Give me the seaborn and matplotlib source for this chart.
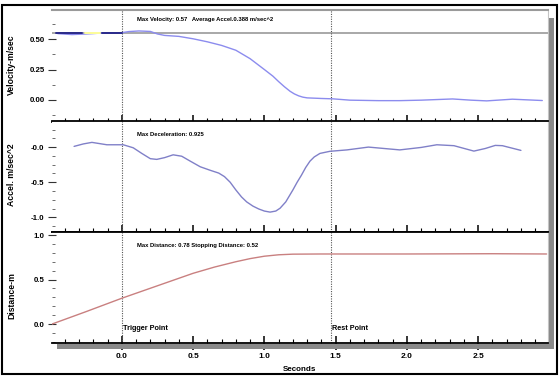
import matplotlib
matplotlib.use("Agg")
import matplotlib.pyplot as plt
import seaborn as sns
from matplotlib.patches import Rectangle
from matplotlib.ticker import MultipleLocator, FixedLocator, FixedFormatter

# ---------------- data ----------------
vel_t = [-0.45, -0.35, -0.25, -0.15, 0.0, 0.05, 0.12, 0.20, 0.25, 0.30, 0.40, 0.50,
         0.60, 0.70, 0.80, 0.90, 1.00, 1.06, 1.10, 1.14, 1.18, 1.21, 1.24, 1.27, 1.30,
         1.40, 1.48, 1.60, 1.80, 1.95, 2.10, 2.32, 2.45, 2.56, 2.74, 2.95]
vel_v = [0.548, 0.540, 0.545, 0.552, 0.556, 0.565, 0.570, 0.566, 0.545, 0.533, 0.525, 0.505,
         0.480, 0.450, 0.410, 0.340, 0.250, 0.195, 0.150, 0.108, 0.070, 0.048, 0.032, 0.021, 0.015,
         0.010, 0.007, -0.004, -0.008, -0.008, -0.004, 0.006, -0.004, -0.010, 0.004, -0.007]

vel_ref = 0.555
cursor_t0 = [-0.46, -0.26, -0.14]
cursor_t1 = [-0.28, -0.15, 0.0]
cursor_colors = ["#2a2a8a", "#ffff99", "#2a2a8a"]

acc_t = [-0.335, -0.27, -0.21, -0.105, 0.01, 0.08, 0.14, 0.20, 0.245, 0.30, 0.36, 0.42,
         0.48, 0.55, 0.62, 0.68, 0.72, 0.76, 0.80, 0.84, 0.876, 0.92, 0.96, 1.00, 1.04,
         1.08, 1.11, 1.15, 1.20, 1.23, 1.26, 1.29, 1.32, 1.35, 1.39, 1.46, 1.58, 1.73,
         1.95, 2.10, 2.21, 2.33, 2.47, 2.55, 2.62, 2.67, 2.80]
acc_a = [0.010, 0.045, 0.067, 0.033, 0.033, -0.010, -0.090, -0.165, -0.175, -0.150, -0.110, -0.130,
         -0.200, -0.280, -0.330, -0.370, -0.420, -0.500, -0.610, -0.710, -0.780, -0.840, -0.880, -0.910, -0.925,
         -0.910, -0.870, -0.780, -0.610, -0.500, -0.400, -0.290, -0.200, -0.140, -0.090, -0.060, -0.040, 0.000,
         -0.040, -0.005, 0.033, 0.020, -0.057, -0.020, 0.024, 0.020, -0.047]

dist_t = [-0.49, -0.25, 0.0, 0.25, 0.50, 0.65, 0.80, 0.90, 1.00, 1.10, 1.20, 1.40,
          2.00, 2.60, 2.98]
dist_d = [0.000, 0.140, 0.290, 0.430, 0.570, 0.640, 0.700, 0.735, 0.762, 0.778, 0.785, 0.787,
          0.787, 0.790, 0.787]

trigger_t = 0.0
rest_t = 1.47

vel_ticks = [0.0, 0.25, 0.5]
vel_labels = ["0.00", "0.25", "0.50"]
acc_ticks = [0.0, -0.5, -1.0]
acc_labels = ["-0.0", "-0.5", "-1.0"]
dist_ticks = [0.0, 0.5, 1.0]
dist_labels = ["0.0", "0.5", "1.0"]
x_ticks = [0.0, 0.5, 1.0, 1.5, 2.0, 2.5]
x_labels = ["0.0", "0.5", "1.0", "1.5", "2.0", "2.5"]

# ---------------- style ----------------
sns.set_theme(style="white")
plt.rcParams['font.family'] = ['Liberation Sans', 'DejaVu Sans']
plt.rcParams['font.weight'] = 'bold'

W, H = 560, 379
fig = plt.figure(figsize=(W / 100, H / 100), dpi=100)
fig.patch.set_facecolor("white")


def px_axes(left, top, right, bottom):
    return fig.add_axes([left / W, 1 - bottom / H, (right - left) / W, (bottom - top) / H])


ax1 = px_axes(52, 9.5, 548, 121.5)
ax2 = px_axes(52, 121.5, 548, 232)
ax3 = px_axes(52, 232, 548, 343)

# ---------------- lines ----------------
ax1.axhline(vel_ref, color="#9a9a9a", lw=1.2, zorder=1)
sns.lineplot(x=vel_t, y=vel_v, ax=ax1, color="#8c8cee", lw=1.0, sort=False,
             estimator=None, zorder=3)
for t0, t1, c in zip(cursor_t0, cursor_t1, cursor_colors):
    sns.lineplot(x=[t0, t1], y=[vel_ref, vel_ref], ax=ax1, color=c, lw=1.4,
                 sort=False, estimator=None, zorder=4)

sns.lineplot(x=acc_t, y=acc_a, ax=ax2, color="#8080c8", lw=1.0, sort=False,
             estimator=None, zorder=3)
sns.lineplot(x=dist_t, y=dist_d, ax=ax3, color="#c98080", lw=1.0, sort=False,
             estimator=None, zorder=3)

# ---------------- axes formatting ----------------
ylims = [(-0.181, 0.748), (-1.208, 0.364), (-0.213, 1.034)]
yt = [(vel_ticks, vel_labels, 0.125), (acc_ticks, acc_labels, 0.125),
      (dist_ticks, dist_labels, 0.1)]
for ax, yl, (tk, lb, mn) in zip([ax1, ax2, ax3], ylims, yt):
    ax.set_xlim(-0.49, 2.99)
    ax.set_ylim(*yl)
    ax.set_xlabel("")
    ax.set_ylabel("")
    ax.xaxis.set_major_locator(FixedLocator(x_ticks))
    ax.xaxis.set_major_formatter(FixedFormatter(x_labels))
    ax.xaxis.set_minor_locator(MultipleLocator(0.1))
    ax.yaxis.set_major_locator(FixedLocator(tk))
    ax.yaxis.set_major_formatter(FixedFormatter(lb))
    ax.yaxis.set_minor_locator(MultipleLocator(mn))
    ax.tick_params(axis="x", which="major", bottom=True, top=False, direction="inout",
                   length=9.5, width=1.1, color="black", labelsize=6, pad=2.5,
                   labelcolor="black")
    ax.tick_params(axis="x", which="minor", bottom=True, top=False, direction="in",
                   length=3, width=0.8, color="black")
    ax.tick_params(axis="y", which="major", left=True, right=False, direction="inout",
                   length=5.8, width=0.8, color="#333333", labelsize=5.7, pad=2.5,
                   labelcolor="black")
    ax.tick_params(axis="y", which="minor", left=True, right=False, direction="in",
                   length=2, width=0.6, color="#555555")
    ax.spines["left"].set_visible(False)
    ax.spines["right"].set_color("#c4c4c4")
    ax.spines["right"].set_linewidth(0.8)
    ax.spines["bottom"].set_color("black")
    ax.spines["bottom"].set_linewidth(1.3)
    ax.spines["top"].set_color("black")
    ax.spines["top"].set_linewidth(1.3)
    ax.axvline(trigger_t, color="#555555", lw=0.8, ls=(0, (1, 1.2)), zorder=2)
    ax.axvline(rest_t, color="#555555", lw=0.8, ls=(0, (1, 1.2)), zorder=2)
    for lab in ax.get_xticklabels() + ax.get_yticklabels():
        lab.set_fontweight("bold")

ax1.spines["top"].set_color("#9a9a9a")
ax1.spines["top"].set_linewidth(1.5)
ax1.tick_params(axis="x", labelbottom=False)
ax2.tick_params(axis="x", labelbottom=False)

ylab_kw = dict(fontsize=6.2, fontweight="bold", color="black")
ax1.set_ylabel("Velocity-m/sec", **ylab_kw)
ax2.set_ylabel("Accel. m/sec^2", **ylab_kw)
ax3.set_ylabel("Distance-m", **ylab_kw)
ax1.yaxis.set_label_coords(-0.072, 0.51)
ax2.yaxis.set_label_coords(-0.072, 0.516)
ax3.yaxis.set_label_coords(-0.072, 0.43)

# ---------------- annotations ----------------
def ftext(x, y, s, **kw):
    fig.text(x / W, 1 - y / H, s, fontweight="bold", color="black", **kw)

ftext(137, 19, "Max Velocity: 0.57   Average Accel.0.388 m/sec^2", fontsize=4.2,
      ha="left", va="center")
ftext(137, 134, "Max Deceleration: 0.925", fontsize=4.2, ha="left", va="center")
ftext(137, 245, "Max Distance: 0.78 Stopping Distance: 0.52", fontsize=4.2,
      ha="left", va="center")
ftext(123, 329, "Trigger Point", fontsize=5.2, ha="left", va="center")
ftext(332, 329, "Rest Point", fontsize=5.2, ha="left", va="center")
ftext(299.5, 369.5, "Seconds", fontsize=5.8, ha="center", va="center")

# ---------------- window decorations ----------------
def frect(x0, y0, x1, y1, **kw):
    fig.patches.append(Rectangle((x0 / W, 1 - y1 / H), (x1 - x0) / W, (y1 - y0) / H,
                                 transform=fig.transFigure, figure=fig, **kw))

frect(549, 18, 553.5, 349, facecolor="#8a8a8a", edgecolor="none", zorder=0.5)
frect(57, 344, 553.5, 349, facecolor="#8a8a8a", edgecolor="none", zorder=0.5)
frect(2, 5, 556.5, 373.5, facecolor="none", edgecolor="black", lw=1.5, zorder=5)

fig.savefig("out.png", dpi=100)
